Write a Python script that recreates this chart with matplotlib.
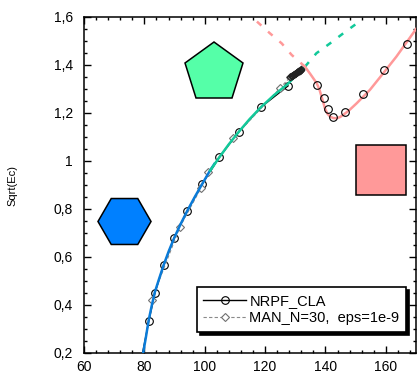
import matplotlib
matplotlib.use("Agg")
import matplotlib.pyplot as plt
from matplotlib.ticker import MultipleLocator, FuncFormatter

plt.rcParams['font.family'] = ['Liberation Sans', 'DejaVu Sans']

# NRPF_CLA points (open circles), first point is only the line start
nrpf_x = [79.4, 81.5, 83.5, 86.4, 89.9, 94.2, 99.1, 104.8, 111.3, 118.6, 127.6]
nrpf_y = [0.2, 0.335, 0.451, 0.567, 0.680, 0.792, 0.903, 1.015, 1.122, 1.224, 1.313]
nrpf2_x = [137.3, 139.5, 140.9, 142.5, 146.4, 152.5, 159.3, 166.9]
nrpf2_y = [1.317, 1.264, 1.215, 1.185, 1.203, 1.278, 1.379, 1.489]

# MAN_N=30 points (diamonds)
man_x = [82.4, 91.8, 98.7, 101.2, 109.4, 124.9, 128.4]
man_y = [0.421, 0.726, 0.886, 0.955, 1.095, 1.303, 1.351]
# dense MAN steps near the crossing
clus_x = [128.4, 128.6, 128.8, 129.0, 129.2, 129.4, 129.6, 129.8, 130.0, 130.2,
          130.4, 130.6, 130.8, 131.0, 131.2, 131.4, 131.6, 131.8, 132.0]
clus_y = [1.351, 1.353, 1.354, 1.356, 1.358, 1.359, 1.361, 1.363, 1.364, 1.366,
          1.368, 1.370, 1.372, 1.373, 1.375, 1.377, 1.379, 1.381, 1.383]

# coloured branches
blue_x = [79.6, 80.5, 81.4, 82.4, 83.5, 84.9, 86.4, 88.1, 89.9, 92.0, 94.2, 96.6, 99.1, 101.5, 103.2]
blue_y = [0.2, 0.265, 0.335, 0.395, 0.455, 0.51, 0.567, 0.625, 0.680, 0.737, 0.792, 0.848, 0.903, 0.955, 0.988]
green_x = [101.8, 104.8, 108.0, 111.3, 114.9, 118.6, 123.0, 127.6, 130.5, 133.2]
green_y = [0.960, 1.015, 1.070, 1.122, 1.175, 1.224, 1.275, 1.322, 1.360, 1.393]
green_dash_x = [133.2, 137.0, 141.5, 145.9, 149.7, 150.5]
green_dash_y = [1.393, 1.449, 1.490, 1.532, 1.567, 1.575]
pink_x = [133.2, 135.0, 137.1, 138.0, 138.7, 139.3, 139.8, 140.6, 141.5, 142.6, 143.7, 144.8,
          145.9, 148.0, 150.3, 154.7, 159.1, 163.5, 169.0, 170.0]
pink_y = [1.393, 1.362, 1.324, 1.298, 1.268, 1.243, 1.220, 1.198, 1.185, 1.179, 1.178, 1.183,
          1.192, 1.213, 1.240, 1.296, 1.365, 1.435, 1.532, 1.550]
pink_dash_x = [133.2, 128.8, 125.5, 121.6, 116.5]
pink_dash_y = [1.393, 1.442, 1.490, 1.532, 1.590]

blue = '#0A7BD8'
green = '#12C99A'
pink = '#FF9999'

fig = plt.figure(figsize=(4.19, 3.76), dpi=100)
ax = fig.add_axes([0.2005, 0.0612, 0.7924, 0.8936])

# reference solutions
l1, = ax.plot(nrpf_x, nrpf_y, '-', color='black', lw=1.0, marker='o', ms=5.5,
              markevery=list(range(1, len(nrpf_x))),
              mfc='none', mec='black', mew=0.8, zorder=2)
ax.plot(nrpf2_x, nrpf2_y, 'none', marker='o', ms=5.5, mfc='none', mec='black', mew=0.8, zorder=4)
l2, = ax.plot(man_x, man_y, '--', color='#8a8a8a', lw=0.8, dashes=(3, 2), marker='D', ms=3.8,
              mfc='white', mec='#707070', mew=0.8, zorder=2)
ax.plot(clus_x, clus_y, '-', color='#222222', lw=0.8, marker='D', ms=3.4,
        mfc='none', mec='#222222', mew=0.8, zorder=4)

# branches
ax.plot(blue_x, blue_y, color=blue, lw=1.8, zorder=3)
ax.plot(green_x, green_y, color=green, lw=1.8, zorder=3)
ax.plot(green_dash_x, green_dash_y, color=green, lw=1.8, dashes=(2.4, 3.6), zorder=3)
ax.plot(pink_x, pink_y, color=pink, lw=1.8, zorder=3)
ax.plot(pink_dash_x, pink_dash_y, color=pink, lw=1.8, dashes=(2.4, 3.6), zorder=3)

# decorative shapes
ax.plot([73.2], [0.752], marker='H', ms=38.2, mfc='#0080FF', mec='black', mew=1.1, zorder=5)
ax.plot([103.0], [1.367], marker='p', ms=44.6, mfc='#55FFA8', mec='black', mew=1.1, zorder=5)
ax.plot([158.3], [0.9625], marker='s', ms=36, mfc=pink, mec='black', mew=1.1, zorder=5)

ax.set_xlim(60, 170)
ax.set_ylim(0.2, 1.6)
ax.xaxis.set_major_locator(MultipleLocator(20))
ax.xaxis.set_minor_locator(MultipleLocator(4))
ax.yaxis.set_major_locator(MultipleLocator(0.2))
ax.yaxis.set_minor_locator(MultipleLocator(0.05))
ax.yaxis.set_major_formatter(FuncFormatter(lambda v, p: ('%g' % round(v, 2)).replace('.', ',')))
ax.tick_params(which='both', direction='in', top=True, right=True, width=1.0, labelsize=10)
ax.tick_params(which='major', length=5)
ax.tick_params(which='minor', length=2.5)
ax.tick_params(axis='x', pad=5)
ax.tick_params(axis='y', pad=8)
for s in ax.spines.values():
    s.set_linewidth(1.1)

fig.text(12 / 419, 1 - 185 / 376, 'Sqrt(Ec)', rotation=90, fontsize=8, ha='center', va='center')

leg = ax.legend([l1, l2], ['NRPF_CLA', 'MAN_N=30,  eps=1e-9'], loc='lower left',
                bbox_to_anchor=(0.34, 0.0625), borderaxespad=0, fontsize=10.5,
                handlelength=2.9, handletextpad=0.25, labelspacing=0.25, borderpad=0.45,
                fancybox=False, framealpha=1, edgecolor='black',
                shadow={'color': 'black', 'alpha': 1})
leg.get_frame().set_linewidth(1.2)
leg.set_zorder(6)

fig.savefig('out.png', dpi=100)
